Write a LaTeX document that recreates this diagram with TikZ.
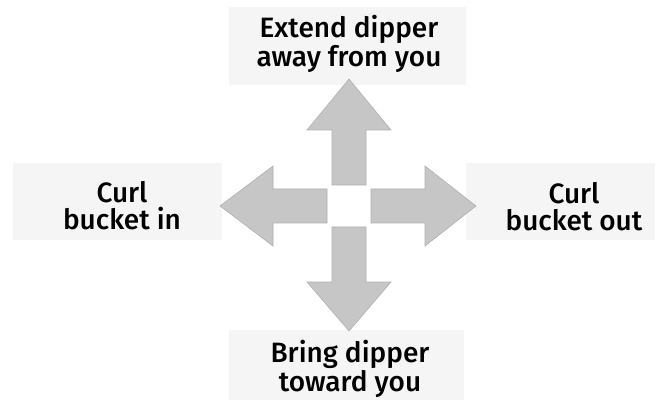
\documentclass[tikz,border=0pt]{standalone}
\usepackage{fontspec}
\setmainfont{Fira Sans}[UprightFont={* Medium}]
\usepackage{tikz}

\begin{document}
\begin{tikzpicture}[x=1pt, y=-1pt,
  every node/.style={align=center, inner sep=0pt, font=\fontsize{28}{27}\selectfont},
  labelbg/.style={fill=gray!8},
  arm/.style={fill=gray!45, draw=gray!62, line width=0.6pt}]
  \useasboundingbox (0,0) rectangle (658,403);
  % faint panels behind the labels
  \fill[labelbg] (229,7) rectangle (466,85);
  \fill[labelbg] (13,163) rectangle (222,240);
  \fill[labelbg] (466,163) rectangle (655,240);
  \fill[labelbg] (229,330) rectangle (464,400);
  \coordinate (c) at (349,206);
  % the four arrows around the open centre
  \filldraw[arm, shift={(c)}, rotate=0]   (22,-17) -- (76,-17) -- (76,-40) -- (127,0) -- (76,40) -- (76,17) -- (22,17) -- cycle;
  \filldraw[arm, shift={(c)}, rotate=90]  (21,-17) -- (76,-17) -- (76,-42) -- (127,0) -- (76,42) -- (76,17) -- (21,17) -- cycle;
  \filldraw[arm, shift={(c)}, rotate=180] (22,-17) -- (76,-17) -- (76,-40) -- (129,0) -- (76,40) -- (76,17) -- (22,17) -- cycle;
  \filldraw[arm, shift={(c)}, rotate=270] (21,-17) -- (76,-17) -- (76,-42) -- (125,0) -- (76,42) -- (76,17) -- (21,17) -- cycle;
  % labels
  \node (extend) at (349,44)  {Extend dipper\\away from you};
  \node (curlin) at (122,206) {Curl\\bucket in};
  \node (curlout) at (574,207) {Curl\\bucket out};
  \node (bring) at (350,369) {Bring dipper\\toward you};
\end{tikzpicture}
\end{document}
